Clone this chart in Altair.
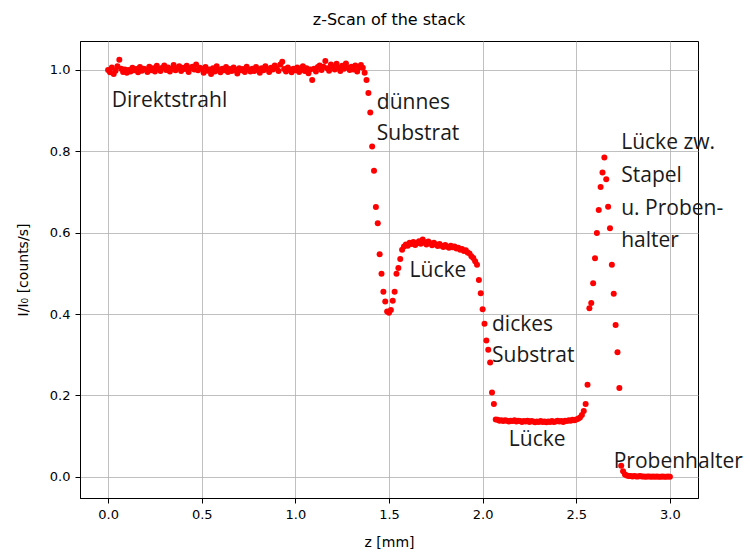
import altair as alt
import pandas as pd

# Scan step of the z-stage in mm
STEP = 0.01

# Measured transmission I/I0, one list per region of the scan (start z in mm)
direct_start = 0.00
direct_beam = [
    1.000, 0.994, 1.006, 0.990, 0.998, 1.009, 1.025, 1.003, 0.995, 1.001,
    0.993, 1.000, 0.996, 1.005, 0.999, 1.002, 0.994, 1.007, 0.998, 1.003,
    1.001, 0.995, 1.008, 0.999, 1.004, 0.996, 1.010, 1.002, 0.997, 1.005,
    1.011, 1.000, 1.006, 0.996, 1.003, 1.012, 0.999, 1.004, 1.009, 0.997,
    1.005, 1.002, 1.010, 0.995, 1.004, 1.008, 1.001, 1.013, 0.999, 1.005,
    1.003, 0.993, 1.007, 0.998, 1.001, 0.990, 1.004, 0.996, 1.009, 1.000,
    0.994, 1.003, 0.999, 1.007, 0.995, 1.002, 0.997, 1.006, 1.000, 0.991,
    1.004, 0.999, 1.002, 0.995, 1.008, 1.001, 0.996, 1.003, 0.997, 1.007,
    1.000, 0.993, 1.004, 0.999, 1.009, 1.002, 0.995, 1.005, 1.001, 1.011,
    1.004, 0.997, 1.013, 1.020, 1.002, 0.996, 1.006, 1.001, 0.994, 1.003,
    0.999, 1.006, 0.995, 1.002, 1.009, 0.997, 1.004, 0.992, 1.001, 0.975,
    1.003, 0.996, 1.007, 1.011, 1.000, 1.008, 1.022, 1.004, 0.998, 1.013,
    1.007, 1.001, 1.015, 1.005, 0.997, 1.010, 1.003, 1.016, 1.006, 1.000,
    1.008, 1.001, 1.011, 0.996, 1.006, 1.012, 1.005, 0.993,
]

thin_start = 1.38
thin_substrate = [
    0.975, 0.943, 0.895, 0.812, 0.752, 0.663, 0.623, 0.547, 0.499, 0.455,
    0.431, 0.406, 0.403, 0.410, 0.433, 0.455, 0.499, 0.513, 0.535,
]

gap_start = 1.57
gap = [
    0.558, 0.566, 0.571, 0.568, 0.575, 0.572, 0.577, 0.570, 0.574, 0.579,
    0.573, 0.583, 0.576, 0.571, 0.578, 0.574, 0.569, 0.575, 0.571, 0.567,
    0.572, 0.568, 0.565, 0.570, 0.566, 0.563, 0.568, 0.564, 0.566, 0.561,
    0.563, 0.558, 0.560, 0.555, 0.557, 0.551, 0.549, 0.542, 0.538, 0.530,
    0.521,
]

thick_start = 1.98
thick_substrate = [0.484, 0.451, 0.412, 0.376, 0.335, 0.312, 0.281, 0.207, 0.179]

gap2_start = 2.07
gap2 = [
    0.141, 0.140, 0.138, 0.139, 0.137, 0.139, 0.138, 0.136, 0.138, 0.137,
    0.139, 0.136, 0.138, 0.137, 0.135, 0.137, 0.136, 0.138, 0.135, 0.137,
    0.136, 0.134, 0.136, 0.135, 0.137, 0.135, 0.136, 0.134, 0.136, 0.135,
    0.137, 0.135, 0.136, 0.138, 0.136, 0.137, 0.135, 0.138, 0.137, 0.139,
    0.138, 0.140, 0.139, 0.141, 0.143, 0.146, 0.152, 0.162,
]

holder_gap_start = 2.55
holder_gap = [
    0.179, 0.226, 0.414, 0.427, 0.476, 0.537, 0.599, 0.656, 0.712, 0.748,
    0.785, 0.731, 0.664, 0.611, 0.521, 0.450, 0.373, 0.306, 0.218,
]

holder_start = 2.74
holder = [
    0.027, 0.014, 0.006, 0.003, 0.002, 0.002, 0.001, 0.002, 0.001, 0.001,
    0.002, 0.001, 0.001, 0.000, 0.001, 0.001, 0.000, 0.001, 0.000, 0.001,
    0.000, 0.000, 0.001, 0.000, 0.000, 0.001, 0.000,
]

segments = [
    (direct_start, direct_beam),
    (thin_start, thin_substrate),
    (gap_start, gap),
    (thick_start, thick_substrate),
    (gap2_start, gap2),
    (holder_gap_start, holder_gap),
    (holder_start, holder),
]

rows = []
for start, values in segments:
    for i, v in enumerate(values):
        rows.append({"z": round(start + i * STEP, 3), "I": v})
scan = pd.DataFrame(rows)

# Region labels (anchor in data coordinates, left-aligned)
label_text = [
    "Direktstrahl", "dünnes", "Substrat", "Lücke", "dickes", "Substrat",
    "Lücke", "Lücke zw.", "Stapel", "u. Proben-", "halter", "Probenhalter",
]
label_z = [0.02, 1.435, 1.435, 1.61, 2.05, 2.05, 2.14, 2.74, 2.74, 2.74, 2.74, 2.70]
label_I = [0.924, 0.919, 0.843, 0.506, 0.373, 0.297, 0.091, 0.820, 0.740, 0.658, 0.580, 0.037]
labels = pd.DataFrame({"z": label_z, "I": label_I, "text": label_text})

x_scale = alt.Scale(domain=[-0.15, 3.15], nice=False, zero=False)
y_scale = alt.Scale(domain=[-0.052, 1.071], nice=False, zero=False)

x_enc = alt.X(
    "z:Q", scale=x_scale, title="z [mm]",
    axis=alt.Axis(values=[0, 0.5, 1.0, 1.5, 2.0, 2.5, 3.0], format=".1f"),
)
y_enc = alt.Y(
    "I:Q", scale=y_scale, title="I/I₀ [counts/s]",
    axis=alt.Axis(values=[0, 0.2, 0.4, 0.6, 0.8, 1.0], format=".1f"),
)

points = alt.Chart(scan).mark_circle(color="red", size=36, opacity=1).encode(
    x=x_enc, y=y_enc
)

text = alt.Chart(labels).mark_text(
    align="left", baseline="middle", font="Open Sans", fontSize=21, color="#1a1a1a"
).encode(
    x=alt.X("z:Q", scale=x_scale),
    y=alt.Y("I:Q", scale=y_scale),
    text="text:N",
)

chart = (
    alt.layer(points, text)
    .properties(
        width=618,
        height=457,
        title=alt.TitleParams(
            "z-Scan of the stack", font="DejaVu Sans", fontSize=16,
            fontWeight="normal", color="black", offset=13,
        ),
        autosize=alt.AutoSizeParams(type="none"),
        padding={"left": 80, "top": 41, "right": 52, "bottom": 56},
    )
    .configure_view(stroke="black", strokeWidth=1)
    .configure_axis(
        grid=True,
        gridColor="#b0b0b0",
        gridWidth=0.8,
        domainColor="black",
        domainWidth=1,
        tickColor="black",
        tickSize=5,
        labelFont="DejaVu Sans",
        labelFontSize=13,
        labelColor="black",
        labelPadding=5,
        titleFont="DejaVu Sans",
        titleFontSize=14,
        titleFontWeight="normal",
        titleColor="black",
    )
    .configure_axisX(titlePadding=14)
    .configure_axisY(titlePadding=19)
)

chart.save("out.html", embed_options={"renderer": "svg", "actions": False})
